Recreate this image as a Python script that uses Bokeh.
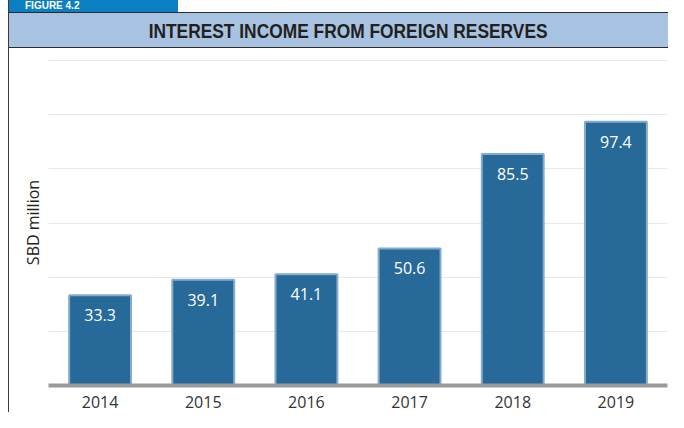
from bokeh.plotting import figure
from bokeh.models import Range1d, FixedTicker, ColumnDataSource, Div
from bokeh.layouts import row, column
from bokeh.core.properties import value
from bokeh.embed import file_html
from bokeh.resources import INLINE

# ---- data ----
years = ["2014", "2015", "2016", "2017", "2018", "2019"]
income = [33.3, 39.1, 41.1, 50.6, 85.5, 97.4]
grid_ticks = [20, 40, 60, 80, 100, 120]
title_text = "INTEREST INCOME FROM FOREIGN RESERVES"
figure_tag = "FIGURE 4.2"
y_label = "SBD million"

FONT = "Open Sans"
W = 659  # width of the column right of the border

# ---- header (figure tag + title bar) as HTML ----
header_html = f"""
<div style="position:relative;width:{W}px;height:51px;overflow:hidden;background:#ffffff;">
  <div style="position:absolute;left:0;top:0;width:169px;height:12px;background:#0b7fc2;">
    <span style="position:absolute;left:16px;top:1px;font-family:'Liberation Sans';font-weight:bold;
                 font-size:10px;line-height:10px;color:#ffffff;white-space:nowrap;">{figure_tag}</span>
  </div>
  <div style="position:absolute;left:0;top:12px;width:{W}px;height:36px;background:#a7c3e1;
              border-top:1px solid #2b2b2b;border-bottom:1px solid #2b2b2b;text-align:center;">
    <span style="display:inline-block;margin-left:20px;transform:scaleX(0.89);transform-origin:center;
                 font-family:'Liberation Sans';font-weight:bold;font-size:19.5px;line-height:36px;
                 color:#231f20;white-space:nowrap;">{title_text}</span>
  </div>
</div>
"""
header = Div(text=header_html, width=W, height=51, margin=(0, 0, 0, 0))

# ---- main chart ----
src = ColumnDataSource(dict(year=years, val=income, lab=[f"{v:.1f}" for v in income]))
p = figure(x_range=years, y_range=Range1d(0, 120.4), width=W, height=361,
           output_backend="svg", toolbar_location=None,
           min_border_left=39, min_border_right=1, min_border_top=8, min_border_bottom=27)
p.outline_line_color = None
p.background_fill_color = "white"
p.border_fill_color = "white"

p.vbar(x="year", top="val", width=0.6, source=src,
       fill_color="#276a99", line_color="#86accd", line_width=2)
p.text(x="year", y="val", text="lab", source=src, y_offset=20,
       text_align="center", text_baseline="middle", text_color="white",
       text_font=value(FONT), text_font_size="16px")

p.xgrid.grid_line_color = None
p.ygrid.ticker = FixedTicker(ticks=grid_ticks)
p.ygrid.grid_line_color = "#e8e8e8"
p.ygrid.grid_line_width = 1

p.yaxis.ticker = FixedTicker(ticks=[])
p.yaxis.axis_line_color = None
p.yaxis.major_tick_line_color = None
p.yaxis.minor_tick_line_color = None
p.yaxis.major_tick_out = 0
p.yaxis.axis_label = y_label
p.yaxis.axis_label_standoff = 5
p.yaxis.axis_label_text_font = FONT
p.yaxis.axis_label_text_font_style = "normal"
p.yaxis.axis_label_text_font_size = "16px"
p.yaxis.axis_label_text_color = "#222222"

p.xaxis.axis_line_color = "#9a9a9a"
p.xaxis.axis_line_width = 4
p.xaxis.major_tick_line_color = None
p.xaxis.minor_tick_line_color = None
p.xaxis.major_tick_out = 0
p.xaxis.major_tick_in = 0
p.xaxis.major_label_standoff = 10
p.xaxis.major_label_text_font = FONT
p.xaxis.major_label_text_font_size = "16px"
p.xaxis.major_label_text_color = "#333333"

spacer = Div(text="", width=8, height=412, margin=(0, 0, 0, 0),
             styles={"background-color": "#ffffff"})
border = Div(text="", width=1, height=412, margin=(0, 0, 0, 0),
             styles={"background-color": "#3b3b3b"})

layout = row(spacer, border, column(header, p, spacing=0), spacing=0)

open("out.html", "w").write(file_html(layout, INLINE))
